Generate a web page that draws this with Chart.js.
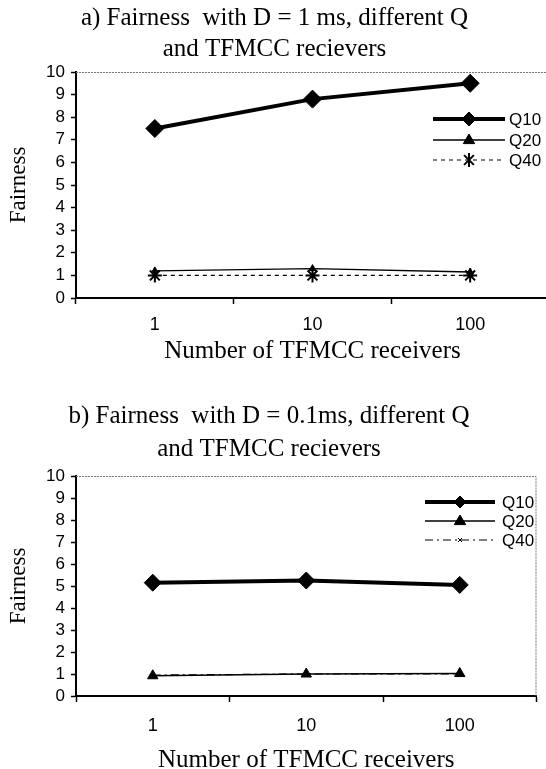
<!DOCTYPE html>
<html>
<head>
<meta charset="utf-8">
<script src="https://cdn.jsdelivr.net/npm/chart.js@4.4.0/dist/chart.umd.min.js"></script>
<style>
    html, body { margin: 0; padding: 0; background: #fff; overflow: hidden; width: 546px; height: 769px; }
    #wrapA { position: absolute; left: 0; top: 0; width: 560px; height: 370px; }
    #wrapB { position: absolute; left: 0; top: 378px; width: 546px; height: 398px; }
</style>
</head>
<body>
<div id="wrapA"><canvas id="chartA"></canvas></div>
<div id="wrapB"><canvas id="chartB"></canvas></div>
<script>
// ================================
// Data
// ================================

const receivers = ["1", "10", "100"];
const yMin = 0;
const yMax = 10;
const yStep = 1;

// a) D = 1 ms
const q10A = [7.5, 8.8, 9.5];
const q20A = [1.2, 1.3, 1.15];
const q40A = [1.0, 1.0, 1.0];

// b) D = 0.1 ms
const q10B = [5.15, 5.25, 5.05];
const q20B = [0.92, 1.0, 1.02];
const q40B = [0.95, 1.0, 1.0];

const titleA = ["a) Fairness  with D = 1 ms, different Q", "and TFMCC recievers"];
const titleB = ["b) Fairness  with D = 0.1ms, different Q", "and TFMCC recievers"];

const serif = "'Liberation Serif', 'Times New Roman', serif";
const sans = "'Liberation Sans', Arial, sans-serif";

// ================================
// Plugins
// ================================

// thin frame on top and right of plot
const framePlugin = {
    id: "plotFrame",
    beforeDatasetsDraw(chart) {
        const a = chart.chartArea;
        const ctx = chart.ctx;
        ctx.save();
        ctx.strokeStyle = "#777";
        ctx.lineWidth = 1;
        ctx.setLineDash([2, 1]);
        ctx.beginPath();
        ctx.moveTo(a.left, a.top + 0.5);
        ctx.lineTo(a.right - 0.5, a.top + 0.5);
        ctx.lineTo(a.right - 0.5, a.bottom);
        ctx.stroke();
        ctx.restore();
    }
};

function marker(ctx, style, r, x, y, bw) {
    ctx.beginPath();
    if (style === "rectRot") {
        ctx.moveTo(x, y - r); ctx.lineTo(x + r, y); ctx.lineTo(x, y + r); ctx.lineTo(x - r, y);
        ctx.closePath(); ctx.fill(); ctx.stroke();
    } else if (style === "triangle") {
        ctx.moveTo(x, y - r); ctx.lineTo(x + r * 0.95, y + r * 0.6); ctx.lineTo(x - r * 0.95, y + r * 0.6);
        ctx.closePath(); ctx.fill(); ctx.stroke();
    } else if (style === "star") {
        ctx.lineWidth = bw;
        ctx.moveTo(x - r * 0.7, y - r * 0.7); ctx.lineTo(x + r * 0.7, y + r * 0.7);
        ctx.moveTo(x + r * 0.7, y - r * 0.7); ctx.lineTo(x - r * 0.7, y + r * 0.7);
        ctx.moveTo(x, y - r); ctx.lineTo(x, y + r);
        ctx.stroke();
    } else {
        ctx.lineWidth = bw;
        ctx.moveTo(x - r, y - r); ctx.lineTo(x + r, y + r);
        ctx.moveTo(x + r, y - r); ctx.lineTo(x - r, y + r);
        ctx.stroke();
    }
}

// legend drawn inside the plot, right side
const legendPlugin = {
    id: "inlineLegend",
    afterDatasetsDraw(chart, args, opts) {
        const ctx = chart.ctx;
        ctx.save();
        chart.data.datasets.forEach((ds, i) => {
            const y = opts.rows[i];
            ctx.strokeStyle = "#000";
            ctx.fillStyle = "#000";
            ctx.lineWidth = ds.borderWidth;
            ctx.setLineDash(ds.borderDash || []);
            ctx.beginPath();
            ctx.moveTo(opts.x0, y);
            ctx.lineTo(opts.x1, y);
            ctx.stroke();
            ctx.setLineDash([]);
            ctx.lineWidth = 1;
            marker(ctx, ds.pointStyle, opts.sizes[i], (opts.x0 + opts.x1) / 2, y, ds.pointBorderWidth || 1);
            ctx.font = "17px " + sans;
            ctx.textBaseline = "middle";
            ctx.textAlign = "left";
            ctx.fillText(ds.label, opts.textX, y + 1);
        });
        ctx.restore();
    }
};

// ================================
// Chart builder
// ================================

function makeChart(id, title, titleLineHeight, titlePad, xAxis, layoutPad, datasets, legend) {
    return new Chart(document.getElementById(id), {
        type: "line",
        data: {
            labels: receivers,
            datasets: datasets
        },
        options: {
            responsive: true,
            maintainAspectRatio: false,
            animation: false,
            layout: { padding: layoutPad },
            plugins: {
                legend: { display: false },
                tooltip: { enabled: false },
                title: {
                    display: true,
                    text: title,
                    color: "#000",
                    font: { family: serif, size: 25, weight: "normal", lineHeight: titleLineHeight / 25 },
                    padding: titlePad
                },
                inlineLegend: legend
            },
            scales: {
                x: {
                    offset: true,
                    afterFit(scale) { scale.height = xAxis.height; },
                    grid: { drawOnChartArea: false, offset: true, tickLength: 6, color: "#000", tickWidth: 1.5 },
                    border: { color: "#000", width: 2 },
                    ticks: { color: "#000", padding: xAxis.ticks, font: { family: sans, size: 18 } },
                    title: {
                        display: true,
                        text: "Number of TFMCC receivers",
                        color: "#000",
                        font: { family: serif, size: 25 },
                        padding: xAxis.title
                    }
                },
                y: {
                    min: yMin,
                    max: yMax,
                    afterFit(scale) { scale.width = 76; },
                    grid: { drawOnChartArea: false, tickLength: 5, color: "#000", tickWidth: 1.5 },
                    border: { color: "#000", width: 2 },
                    ticks: {
                        stepSize: yStep, autoSkip: false, color: "#000", padding: 6,
                        font: { family: sans, size: 17 }
                    },
                    title: {
                        display: true,
                        text: "Fairness",
                        color: "#000",
                        font: { family: serif, size: 23 },
                        padding: { top: 5, bottom: 0 }
                    }
                }
            }
        },
        plugins: [framePlugin, legendPlugin]
    });
}

// ================================
// a) D = 1 ms
// ================================

makeChart("chartA", titleA, 31, { top: 3, bottom: 7 },
    { height: 72, ticks: 10, title: { top: 0, bottom: 4 } },
    { left: 0, right: 11, top: 0, bottom: 0 },
    [
        {
            label: "Q10", data: q10A, borderColor: "#000", backgroundColor: "#000",
            borderWidth: 4, pointStyle: "rectRot", pointRadius: 9,
            pointBackgroundColor: "#000", pointBorderColor: "#000", pointBorderWidth: 1
        },
        {
            label: "Q20", data: q20A, borderColor: "#000", backgroundColor: "#000",
            borderWidth: 1.4, pointStyle: "triangle", pointRadius: 4,
            pointBackgroundColor: "#000", pointBorderColor: "#000", pointBorderWidth: 1
        },
        {
            label: "Q40", data: q40A, borderColor: "#000", backgroundColor: "#000",
            borderWidth: 1.2, borderDash: [4, 4], pointStyle: "star", pointRadius: 7,
            pointBackgroundColor: "#000", pointBorderColor: "#000", pointBorderWidth: 2
        }
    ],
    { rows: [119, 140, 160], x0: 433, x1: 505, textX: 509, sizes: [7, 6, 7] }
);

// ================================
// b) D = 0.1 ms
// ================================

makeChart("chartB", titleB, 33, { top: 22, bottom: 10 },
    { height: 79.4, ticks: 13, title: { top: 0, bottom: 0 } },
    { left: 0, right: 8, top: 0, bottom: 0.6 },
    [
        {
            label: "Q10", data: q10B, borderColor: "#000", backgroundColor: "#000",
            borderWidth: 4, pointStyle: "rectRot", pointRadius: 8.5,
            pointBackgroundColor: "#000", pointBorderColor: "#000", pointBorderWidth: 1
        },
        {
            label: "Q20", data: q20B, borderColor: "#000", backgroundColor: "#000",
            borderWidth: 1.4, pointStyle: "triangle", pointRadius: 6,
            pointBackgroundColor: "#000", pointBorderColor: "#000", pointBorderWidth: 1
        },
        {
            label: "Q40", data: q40B, borderColor: "#000", backgroundColor: "#000",
            borderWidth: 1.2, borderDash: [8, 4, 2, 4], pointStyle: "crossRot", pointRadius: 2,
            pointBackgroundColor: "#000", pointBorderColor: "#000", pointBorderWidth: 1
        }
    ],
    { rows: [124, 143, 162], x0: 425, x1: 495, textX: 502, sizes: [6, 6, 2] }
);
</script>
</body>
</html>
